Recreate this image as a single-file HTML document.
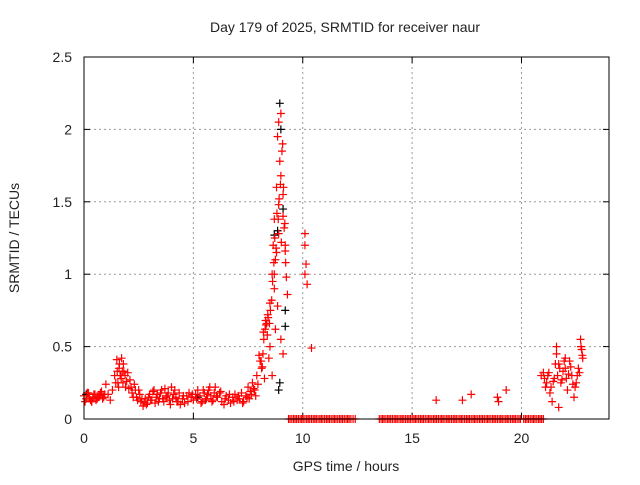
<!DOCTYPE html>
<html><head><meta charset="utf-8"><style>
body{margin:0;background:#fff}
svg text{font-family:"Liberation Sans",sans-serif;fill:#222}
</style></head><body>
<svg width="640" height="480" id="c">
<rect width="640" height="480" fill="#fff"/>
<text x="345" y="32" font-size="14" text-anchor="middle">Day 179 of 2025, SRMTID for receiver naur</text>
<text x="346" y="471" font-size="14" text-anchor="middle">GPS time / hours</text>
<text transform="translate(19,238) rotate(-90)" font-size="14" text-anchor="middle">SRMTID / TECUs</text>
<g id="grid"></g>
<g id="ticks"></g>
<g id="marks"></g>
<rect x="84" y="57" width="525" height="362" fill="none" stroke="#000"/>
</svg>
<script>
const xTicks=[0,5,10,15,20];
const yTicks=[0,0.5,1,1.5,2,2.5];
const yTickLabels=["0","0.5","1","1.5","2","2.5"];
const redT=[0,0.1,0.2,0.3,0.4,0.5,0.6,0.7,0.8,0.9,1.0,1.1,1.2,1.3,1.4,1.5,1.6,1.7,1.8,1.9,2.0,2.1,2.2,2.3,2.4,2.5,2.6,2.7,2.8,2.9,3.0,3.1,3.2,3.3,3.4,3.5,3.6,3.7,3.8,3.9,4.0,4.1,4.2,4.3,4.4,4.5,4.6,4.7,4.8,4.9,5.0,5.1,5.2,5.3,5.4,5.5,5.6,5.7,5.8,5.9,6.0,6.1,6.2,6.3,6.4,6.5,6.6,6.7,6.8,6.9,7.0,7.1,7.2,7.3,7.4,7.5,7.6,7.7,7.8,7.9,8.0,8.1,8.2,8.3,8.4,8.5,8.6,8.65,8.7,8.75,8.8,8.85,8.9,8.95,9.0,9.05,9.1,9.15,9.2,9.25,9.3,9.1,9.2,8.9,8.8,8.7,8.75,8.85,9.0,9.1,8.6,8.5,8.7,8.9,9.0,10.1,10.1,10.15,10.1,10.2,10.4,16.1,17.3,17.7,18.9,18.95,19.3,20.9,21.0,21.1,21.2,21.3,21.4,21.5,21.6,21.7,21.8,21.9,22.0,22.1,22.2,22.3,22.4,22.5,22.6,22.7,22.75,22.8,21.7,21.6,22.0,1.55,1.75,2.05,0.35,0.15,1.65,8.15,8.35,8.45,8.25,21.85,22.15,22.45,21.55];
const redV=[0.16,0.14,0.18,0.13,0.15,0.17,0.14,0.16,0.19,0.15,0.24,0.17,0.13,0.2,0.3,0.41,0.35,0.28,0.38,0.22,0.32,0.27,0.18,0.24,0.15,0.2,0.12,0.09,0.14,0.11,0.17,0.13,0.2,0.15,0.12,0.18,0.14,0.21,0.16,0.13,0.22,0.17,0.15,0.12,0.1,0.14,0.11,0.16,0.18,0.15,0.13,0.17,0.2,0.16,0.12,0.18,0.14,0.2,0.16,0.13,0.22,0.15,0.18,0.12,0.1,0.16,0.13,0.11,0.15,0.17,0.13,0.14,0.18,0.12,0.16,0.22,0.19,0.25,0.2,0.3,0.44,0.4,0.6,0.68,0.72,0.8,1.0,1.2,1.38,1.1,1.6,1.95,2.05,1.78,2.11,1.85,1.55,1.32,1.16,0.98,0.86,1.4,1.2,1.28,1.15,0.9,0.62,0.78,0.55,0.45,0.3,0.5,1.0,1.48,1.68,1.28,1.2,1.07,1.0,0.93,0.49,0.13,0.13,0.17,0.15,0.12,0.2,0.3,0.32,0.22,0.3,0.18,0.12,0.28,0.45,0.38,0.25,0.33,0.35,0.2,0.4,0.3,0.15,0.25,0.35,0.55,0.48,0.42,0.08,0.5,0.42,0.25,0.33,0.21,0.12,0.18,0.3,0.36,0.66,0.42,0.28,0.27,0.31,0.22,0.38];
const extraT=[0.05,0.15,0.25,0.35,0.45,0.55,0.65,0.75,0.85,0.95,1.45,1.52,1.58,1.62,1.68,1.72,1.78,1.82,1.88,1.95,2.15,2.25,2.35,2.45,2.55,2.65,2.75,2.85,2.95,3.05,3.15,3.25,3.35,3.45,3.55,3.65,3.75,3.85,3.95,4.05,4.15,4.25,4.35,4.55,4.75,4.95,5.15,5.35,5.45,5.55,5.65,5.75,5.85,5.95,6.05,6.25,6.45,6.65,6.85,7.05,7.25,7.45,7.55,7.65,7.75,7.85,7.95,8.05,8.12,8.18,8.22,8.28,8.32,8.38,8.42,8.48,8.52,8.58,8.62,8.68,8.72,8.78,8.82,8.88,8.92,8.98,9.02,9.08,9.12,9.18,9.22,21.05,21.15,21.25,21.35,21.45,21.65,21.75,21.95,22.05,22.25,22.35,22.55,22.65,22.72,22.78];
const extraV=[0.12,0.18,0.15,0.12,0.17,0.13,0.15,0.18,0.14,0.17,0.25,0.33,0.22,0.38,0.3,0.42,0.25,0.33,0.3,0.26,0.22,0.15,0.2,0.13,0.17,0.14,0.11,0.1,0.15,0.13,0.19,0.11,0.17,0.14,0.2,0.12,0.15,0.18,0.1,0.14,0.2,0.12,0.18,0.16,0.12,0.17,0.14,0.11,0.2,0.13,0.17,0.22,0.12,0.18,0.16,0.19,0.14,0.17,0.12,0.16,0.11,0.15,0.14,0.17,0.21,0.16,0.24,0.4,0.35,0.45,0.55,0.62,0.65,0.58,0.7,0.66,0.75,0.82,0.95,1.08,1.25,1.18,1.42,1.38,1.52,1.62,1.22,1.9,1.6,1.35,1.08,0.28,0.25,0.32,0.22,0.26,0.3,0.35,0.4,0.28,0.36,0.24,0.3,0.32,0.5,0.44];
const blackT=[8.95,9.0,8.85,9.2,9.2,8.95,8.9,8.7,9.1,0.1,5.2];
const blackV=[2.18,2.0,1.3,0.64,0.75,0.25,0.2,1.27,1.45,0.17,0.15];
const zeroT=[9.35,9.42,9.5,9.58,9.65,9.72,9.8,9.88,9.95,10.02,10.1,10.18,10.25,10.32,10.4,10.48,10.55,10.62,10.7,10.78,10.85,10.92,11.0,11.08,11.15,11.22,11.3,11.38,11.45,11.52,11.6,11.68,11.75,11.82,11.9,11.98,12.05,12.12,12.2,12.3,12.4,13.5,13.58,13.65,13.72,13.8,13.88,13.95,14.02,14.1,14.18,14.25,14.32,14.4,14.48,14.55,14.62,14.7,14.78,14.85,14.92,15.0,15.08,15.15,15.22,15.3,15.38,15.45,15.52,15.6,15.68,15.75,15.82,15.9,15.98,16.05,16.12,16.2,16.28,16.35,16.42,16.5,16.58,16.65,16.72,16.8,16.88,16.95,17.02,17.1,17.18,17.25,17.32,17.4,17.48,17.55,17.62,17.7,17.78,17.85,17.92,18.0,18.08,18.15,18.22,18.3,18.38,18.45,18.52,18.6,18.68,18.75,18.82,18.9,18.98,19.05,19.12,19.2,19.28,19.35,19.42,19.5,19.58,19.65,19.72,19.8,19.88,19.95,20.1,20.18,20.25,20.32,20.4,20.48,20.55,20.62,20.7,20.78,20.85,20.92,21.0];
const X=t=>84+t*525/24, Y=v=>419-v*362/2.5;
const NS="http://www.w3.org/2000/svg";
function mk(tag,attrs,parent){const e=document.createElementNS(NS,tag);for(const k in attrs)e.setAttribute(k,attrs[k]);parent.appendChild(e);return e;}
const grid=document.getElementById('grid'),ticks=document.getElementById('ticks'),marks=document.getElementById('marks');
xTicks.forEach(t=>{const x=X(t);
 if(t>0){const g=mk('line',{x1:x,x2:x,y1:57,y2:419,stroke:'#999','stroke-dasharray':'2,3'},grid);
 
 }
 mk('line',{x1:x,x2:x,y1:419,y2:413,stroke:'#000'},ticks);mk('line',{x1:x,x2:x,y1:57,y2:63,stroke:'#000'},ticks);
 const l=mk('text',{x:x,y:443,'font-size':14,'text-anchor':'middle'},ticks);l.textContent=t;
 
 });
yTicks.forEach((v,i)=>{const y=Y(v);
 if(v>0&&v<2.5){const g=mk('line',{x1:84,x2:609,y1:y,y2:y,stroke:'#999','stroke-dasharray':'2,3'},grid);
 
 }
 mk('line',{x1:84,x2:90,y1:y,y2:y,stroke:'#000'},ticks);mk('line',{x1:609,x2:603,y1:y,y2:y,stroke:'#000'},ticks);
 const l=mk('text',{x:72,y:y+5,'font-size':14,'text-anchor':'end'},ticks);l.textContent=yTickLabels[i];
 
 });
function cross(t,v,col,name){const x=X(t),y=Y(v);
 const p=mk('path',{d:`M${x-4},${y}h8M${x},${y-4}v8`,stroke:col,'stroke-width':1.2,fill:'none'},marks);
 
 }
blackT.forEach((t,i)=>cross(t,blackV[i],'#000','black-point'));
redT.forEach((t,i)=>cross(t,redV[i],'#f00','red-point'));
extraT.forEach((t,i)=>cross(t,extraV[i],'#f00','red-point'));
zeroT.forEach(t=>cross(t,0,'#f00','zero-point'));
</script>
</body></html>
